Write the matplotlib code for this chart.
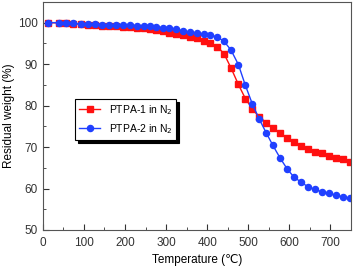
import matplotlib
matplotlib.use("Agg")
import matplotlib.pyplot as plt
from matplotlib.ticker import MultipleLocator

plt.rcParams['font.family'] = ['Liberation Sans', 'DejaVu Sans']

# temperatures (°C)
temp = [13, 40, 57, 74, 93, 111, 128, 145, 162, 178, 195, 212, 229, 245, 260,
        276, 292, 308, 325, 342, 359, 375, 392, 408, 425, 441, 458, 476, 493,
        510, 527, 544, 560, 578, 595, 611, 629, 646, 662, 679, 697, 713, 730, 747]

# residual weight (%)
ptpa1 = [100.0, 99.9, 99.8, 99.7, 99.6, 99.5, 99.4, 99.3, 99.2, 99.1, 99.0,
         98.9, 98.8, 98.6, 98.4, 98.2, 98.0, 97.5, 97.2, 97.0, 96.6, 96.2,
         95.6, 95.0, 94.2, 92.5, 89.1, 85.1, 81.7, 79.2, 77.2, 75.9, 74.5,
         73.3, 72.3, 71.1, 70.2, 69.5, 68.9, 68.5, 67.8, 67.4, 67.0, 66.5]
ptpa2 = [100.0, 100.0, 99.9, 99.8, 99.7, 99.6, 99.55, 99.5, 99.5, 99.45, 99.4,
         99.35, 99.3, 99.2, 99.15, 99.0, 98.8, 98.6, 98.4, 98.0, 97.7, 97.4,
         97.2, 97.0, 96.5, 95.5, 93.4, 89.9, 84.9, 80.4, 76.7, 73.4, 70.4,
         67.3, 64.7, 62.8, 61.5, 60.4, 59.8, 59.2, 58.8, 58.4, 58.0, 57.6]

fig = plt.figure(figsize=(3.53, 2.69), dpi=100)
ax = fig.add_axes([0.1215, 0.145, 0.8725, 0.848])

ax.plot(temp, ptpa1, color='#ff1010', marker='s', markersize=4.2, lw=1,
        label='PTPA-1 in N$_2$')
ax.plot(temp, ptpa2, color='#2040ff', marker='o', markersize=4.4, lw=1,
        label='PTPA-2 in N$_2$')

ax.set_xlim(0, 750)
ax.set_ylim(50, 105)
ax.xaxis.set_major_locator(MultipleLocator(100))
ax.xaxis.set_minor_locator(MultipleLocator(50))
ax.yaxis.set_major_locator(MultipleLocator(10))
ax.yaxis.set_minor_locator(MultipleLocator(5))
ax.tick_params(which='both', direction='in', labelsize=8.5, colors='#333333')
ax.tick_params(which='major', length=4)
ax.tick_params(which='minor', length=2)
ax.tick_params(axis='x', pad=5)
for sp in ax.spines.values():
    sp.set_color('#555555')

ax.set_xlabel('Temperature (℃)', fontsize=8.5, labelpad=4)
ax.set_ylabel('Residual weight (%)', fontsize=8.5, labelpad=2.5)

leg = ax.legend(loc='upper left', bbox_to_anchor=(0.105, 0.575),
                borderaxespad=0, fontsize=7.5, fancybox=False,
                edgecolor='black', framealpha=1,
                shadow={'color': 'black', 'alpha': 1})
leg.get_frame().set_linewidth(0.8)

fig.savefig('out.png', dpi=100)
